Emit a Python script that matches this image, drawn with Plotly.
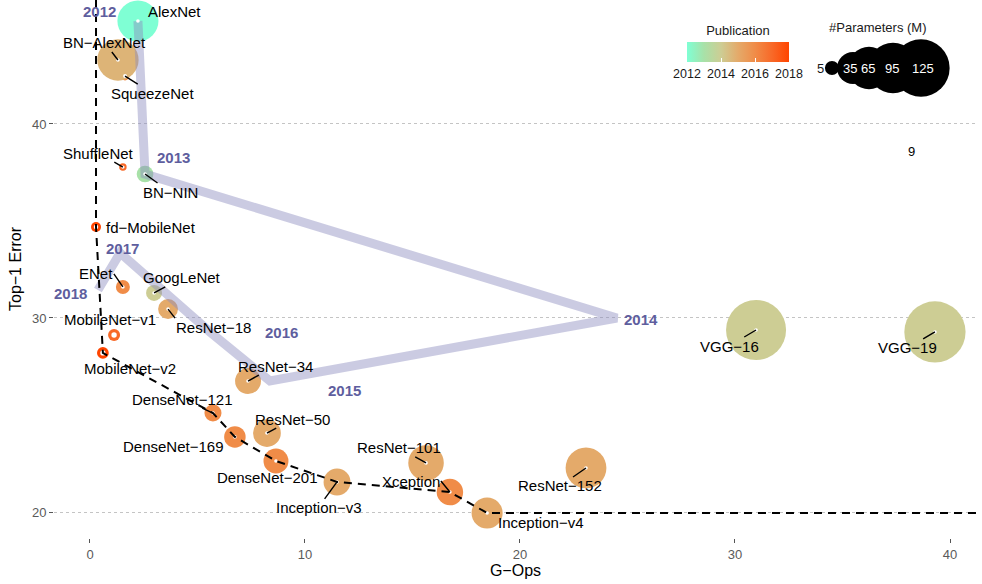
import plotly.graph_objects as go
import numpy as np

# ---------------- data ----------------
models = ["AlexNet", "SqueezeNet", "BN−AlexNet", "ShuffleNet", "BN−NIN", "fd−MobileNet",
          "ENet", "GoogLeNet", "ResNet−18", "MobileNet−v1", "MobileNet−v2", "ResNet−34",
          "DenseNet−121", "DenseNet−169", "ResNet−50", "DenseNet−201", "Inception−v3",
          "ResNet−101", "Xception", "Inception−v4", "ResNet−152", "VGG−16", "VGG−19"]
gops = [2.23, 1.63, 1.30, 1.53, 2.56, 0.28, 1.53, 2.98, 3.63, 1.12, 0.60, 7.35,
        5.72, 6.74, 8.23, 8.65, 11.49, 15.63, 16.74, 18.47, 23.07, 30.98, 39.30]
top1 = [45.31, 42.47, 43.30, 37.78, 37.42, 34.69, 31.60, 31.29, 30.46, 29.12, 28.20, 26.75,
        25.10, 23.87, 24.07, 22.63, 21.55, 22.53, 21.03, 19.95, 22.27, 29.38, 29.28]
params_m = [61, 1.2, 62, 0.7, 7.6, 1.9, 4.8, 6.8, 11.7, 3.2, 3.0, 21.8,
            8.0, 14.1, 25.6, 20.0, 23.8, 44.5, 22.9, 33, 60.2, 138, 144]
pub_year = [2012, 2016, 2014.7, 2017, 2013, 2018, 2016, 2014, 2015, 2017, 2018, 2015,
            2016, 2016, 2015, 2016, 2015, 2015, 2016, 2015, 2015, 2014, 2014]
hollow = ["SqueezeNet", "ShuffleNet", "fd−MobileNet", "MobileNet−v1", "MobileNet−v2"]

# yearly trajectory
traj_years = ["2012", "2013", "2014", "2015", "2016", "2017", "2018"]
traj_x = [2.23, 2.56, 24.51, 8.37, 5.58, 1.40, 0.37]
traj_y = [45.31, 37.42, 30.00, 26.75, 29.28, 33.35, 31.44]

# pareto frontier (dashed)
frontier = ["fd−MobileNet", "MobileNet−v2", "DenseNet−121", "DenseNet−169",
            "DenseNet−201", "Inception−v3", "Xception", "Inception−v4"]

legend_sizes = [5, 35, 65, 95, 125]
extra_text = "9"
extra_pos = (38.23, 38.56)

# ---------------- styling / layout constants ----------------
X_RANGE = [-1.674, 41.256]
Y_RANGE = [18.66, 46.39]
FONT = "Liberation Sans, Arial, Helvetica, sans-serif"
YEAR_COLOR = "#5E5E9E"

colorscale = [
    [0.0, "rgb(127,255,212)"],
    [1 / 6, "rgb(168,225,168)"],
    [2 / 6, "rgb(205,205,148)"],
    [3 / 6, "rgb(228,170,106)"],
    [4 / 6, "rgb(240,140,72)"],
    [5 / 6, "rgb(248,105,40)"],
    [1.0, "rgb(255,69,0)"],
]


def bubble_d(p):
    return 2 * (2.41 * np.sqrt(p) + 1.7)


diam = [bubble_d(p) for p in params_m]
white_d = [0.45 * d if m in hollow else 3.6 for m, d in zip(models, diam)]

idx = {m: i for i, m in enumerate(models)}

fig = go.Figure()

# bubbles
fig.add_trace(go.Scatter(
    x=gops, y=top1, mode="markers", hoverinfo="text", text=models,
    marker=dict(size=diam, color=pub_year, colorscale=colorscale, cmin=2012, cmax=2018,
                opacity=1, line=dict(width=0),
                colorbar=dict(
                    orientation="h", x=(738 - 54) / 923, xanchor="center",
                    y=(538 - 17) / 538, yanchor="top",
                    len=122, lenmode="pixels", thickness=20, xpad=10,
                    title=dict(text="Publication", side="top",
                               font=dict(family=FONT, size=13, color="#1a1a1a")),
                    tickvals=[2012, 2014, 2016, 2018], ticks="inside", ticklen=4,
                    tickcolor="white", tickwidth=1, tickangle=0,
                    tickfont=dict(family=FONT, size=12.5, color="#1a1a1a"),
                    outlinewidth=0,
                )),
    showlegend=False,
))

# yearly trajectory
fig.add_trace(go.Scatter(
    x=traj_x, y=traj_y, mode="lines",
    line=dict(color="rgba(140,140,190,0.45)", width=9),
    hoverinfo="skip", showlegend=False,
))

# white centers
fig.add_trace(go.Scatter(
    x=gops, y=top1, mode="markers",
    marker=dict(size=white_d, color="white", opacity=1, line=dict(width=0)),
    hoverinfo="skip", showlegend=False,
))

# pareto frontier
fx = [gops[idx[frontier[0]]]] + [gops[idx[m]] for m in frontier] + [X_RANGE[1]]
fy = [Y_RANGE[1]] + [top1[idx[m]] for m in frontier] + [top1[idx[frontier[-1]]]]
fig.add_trace(go.Scatter(
    x=fx, y=fy, mode="lines",
    line=dict(color="black", width=2, dash="8px,6px"),
    hoverinfo="skip", showlegend=False,
))

# size legend (on its own pixel-like axes)
leg_px = [832, 853, 869, 893, 921]
leg_py = 68
fig.add_trace(go.Scatter(
    x=leg_px, y=[-leg_py] * len(leg_px), mode="markers",
    marker=dict(size=[bubble_d(s) for s in legend_sizes], color="black", opacity=1,
                line=dict(width=0)),
    xaxis="x2", yaxis="y2", hoverinfo="skip", showlegend=False,
))

annotations = []

# model labels: (dx, dy) in px (dy downward), arrow?, xanchor, yanchor
label_spec = {
    "AlexNet": (37, -9, False, "center", "middle"),
    "BN−AlexNet": (-13, -17, True, "center", "middle"),
    "SqueezeNet": (27, 17, True, "center", "middle"),
    "ShuffleNet": (-24, -14, True, "center", "middle"),
    "BN−NIN": (25, 18, True, "center", "middle"),
    "fd−MobileNet": (55, 0, False, "center", "middle"),
    "ENet": (-9, -13, True, "right", "middle"),
    "GoogLeNet": (28, -15, True, "center", "middle"),
    "ResNet−18": (7, 9, True, "left", "top"),
    "MobileNet−v1": (-4, -16, False, "center", "middle"),
    "MobileNet−v2": (27, 16, False, "center", "middle"),
    "ResNet−34": (27, -15, True, "center", "middle"),
    "DenseNet−121": (-30, -14, True, "center", "middle"),
    "DenseNet−169": (-61, 10, False, "center", "middle"),
    "ResNet−50": (26, -14, True, "center", "middle"),
    "DenseNet−201": (-8, 17, False, "center", "middle"),
    "Inception−v3": (-19, 26, True, "center", "middle"),
    "ResNet−101": (-27, -15, True, "center", "middle"),
    "Xception": (-9, -11, True, "right", "middle"),
    "Inception−v4": (53, 10, False, "center", "middle"),
    "ResNet−152": (-26, 18, True, "center", "middle"),
    "VGG−16": (-27, 16, True, "center", "middle"),
    "VGG−19": (-27, 16, True, "center", "middle"),
}
lab_font = dict(family=FONT, size=15, color="black")
for m, (dx, dy, arrow, xa, ya) in label_spec.items():
    i = idx[m]
    if arrow:
        annotations.append(dict(
            x=gops[i], y=top1[i], xref="x", yref="y", text=m, font=lab_font,
            showarrow=True, ax=dx, ay=dy, axref="pixel", ayref="pixel",
            arrowhead=0, arrowwidth=1.4, arrowcolor="black",
            xanchor=xa, yanchor=ya, borderpad=0,
        ))
    else:
        annotations.append(dict(
            x=gops[i], y=top1[i], xref="x", yref="y", text=m, font=lab_font,
            showarrow=False, xshift=dx, yshift=-dy, xanchor=xa, yanchor=ya,
        ))

# year labels
year_shift = {"2012": (-38, -9), "2013": (28, -17), "2014": (24, 2), "2015": (75, 9),
              "2016": (72, 1), "2017": (2, -4), "2018": (-27, 3)}
for yr, xv, yv in zip(traj_years, traj_x, traj_y):
    dx, dy = year_shift[yr]
    annotations.append(dict(
        x=xv, y=yv, xref="x", yref="y", text="<b>" + yr + "</b>", showarrow=False,
        xshift=dx, yshift=-dy, font=dict(family=FONT, size=15, color=YEAR_COLOR),
    ))

# stray label
annotations.append(dict(x=extra_pos[0], y=extra_pos[1], xref="x", yref="y", text=extra_text,
                        showarrow=False, font=dict(family=FONT, size=13, color="black")))

# size legend texts
annotations.append(dict(x=878, y=-27, xref="x2", yref="y2", text="#Parameters (M)",
                        showarrow=False, font=dict(family=FONT, size=13, color="#1a1a1a")))
annotations.append(dict(x=820, y=-leg_py, xref="x2", yref="y2", text=str(legend_sizes[0]),
                        showarrow=False, font=dict(family=FONT, size=13, color="#1a1a1a")))
for s, px in zip(legend_sizes[1:], [850, 868, 892, 923]):
    annotations.append(dict(x=px, y=-leg_py, xref="x2", yref="y2", text=str(s),
                            showarrow=False, font=dict(family=FONT, size=13, color="white")))

fig.update_layout(
    width=982, height=584, autosize=False,
    margin=dict(l=54, r=5, t=0, b=46),
    paper_bgcolor="white", plot_bgcolor="white",
    font=dict(family=FONT, color="black"),
    annotations=annotations,
    xaxis=dict(range=X_RANGE, showgrid=False, zeroline=False, showline=False,
               tickvals=[0, 10, 20, 30, 40], ticks="outside", ticklen=4, tickcolor="#555",
               tickfont=dict(family=FONT, size=13, color="#5a5a5a"),
               title=dict(text="G−Ops", standoff=4, font=dict(family=FONT, size=16, color="black"))),
    yaxis=dict(range=Y_RANGE, showgrid=True, gridcolor="#c4c4c4", griddash="dot", gridwidth=1,
               zeroline=False, showline=False,
               tickvals=[20, 30, 40], ticks="outside", ticklen=4, tickcolor="#555",
               tickfont=dict(family=FONT, size=13, color="#5a5a5a"),
               title=dict(text="Top−1 Error", standoff=6, font=dict(family=FONT, size=16, color="black"))),
    xaxis2=dict(domain=[(790 - 54) / 923, (970 - 54) / 923], range=[790, 970],
                visible=False, anchor="y2", fixedrange=True),
    yaxis2=dict(domain=[(538 - 110) / 538, (538 - 20) / 538], range=[-110, -20],
                visible=False, anchor="x2", fixedrange=True),
)

fig.write_html("out.html", config={"displayModeBar": False},
               post_script="document.body.style.margin='0px';")
